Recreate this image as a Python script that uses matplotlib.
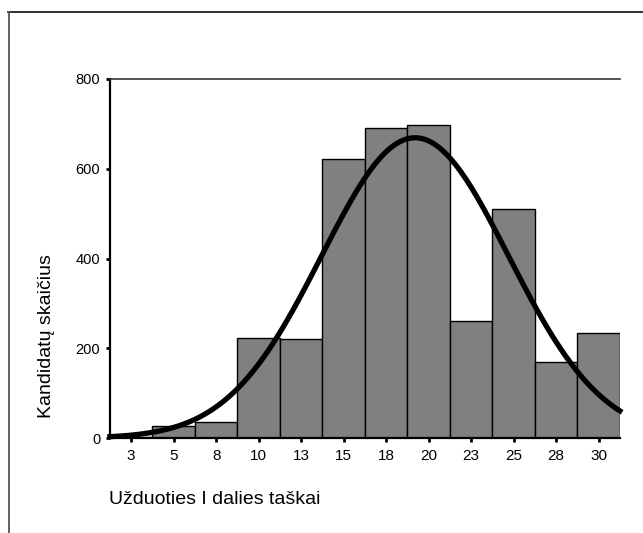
import numpy as np
import matplotlib.pyplot as plt
from matplotlib.lines import Line2D

plt.rcParams['font.family'] = ['Liberation Sans', 'DejaVu Sans']

# score bins (width 2.5) and candidate counts
bin_centers = [2.5, 5.0, 7.5, 10.0, 12.5, 15.0, 17.5, 20.0, 22.5, 25.0, 27.5, 30.0]
tick_labels = ["3", "5", "8", "10", "13", "15", "18", "20", "23", "25", "28", "30"]
counts = [2, 27, 36, 223, 220, 621, 690, 697, 261, 510, 169, 233]
bin_width = 2.5

# normal fit parameters
fit_mean = 19.2
fit_sd = 5.5

fig = plt.figure(figsize=(6.43, 5.33), dpi=100)
ax = fig.add_axes([0.171, 0.178, 0.793, 0.674])

ax.bar(bin_centers, counts, width=bin_width, color="#808080",
       edgecolor="black", linewidth=1.0, zorder=2)

n_total = sum(counts)
xs = np.linspace(bin_centers[0] - bin_width / 2, bin_centers[-1] + bin_width / 2, 300)
ys = n_total * bin_width / (fit_sd * np.sqrt(2 * np.pi)) * np.exp(-0.5 * ((xs - fit_mean) / fit_sd) ** 2)
ax.plot(xs, ys, color="black", linewidth=3.8, zorder=3, clip_on=False)

ax.set_xlim(bin_centers[0] - bin_width / 2, bin_centers[-1] + bin_width / 2)
ax.set_ylim(0, 800)
ax.set_xticks(bin_centers)
ax.set_xticklabels(tick_labels, fontsize=11)
ax.set_yticks([0, 200, 400, 600, 800])
ax.set_yticklabels(["0", "200", "400", "600", "800"], fontsize=10.5)
ax.tick_params(axis="x", direction="out", length=3, width=2, pad=5)
ax.tick_params(axis="y", direction="out", length=3, width=2, pad=4)

ax.spines["right"].set_visible(False)
ax.spines["top"].set_color("#333333")
ax.spines["top"].set_linewidth(1.2)
for side in ["left", "bottom"]:
    ax.spines[side].set_linewidth(1.6)
    ax.spines[side].set_color("black")

fig.text(47 / 643, 1 - 336 / 533, "Kandidatų skaičius", rotation=90,
         ha="center", va="center", fontsize=14)
fig.text(109 / 643, 1 - 500 / 533, "Užduoties I dalies taškai",
         ha="left", va="center", fontsize=14)

# outer frame lines
fig.add_artist(Line2D([8 / 643, 1.0], [1 - 12 / 533, 1 - 12 / 533],
                      transform=fig.transFigure, color="#222222", linewidth=1.3))
fig.add_artist(Line2D([9 / 643, 9 / 643], [0.0, 1 - 12 / 533],
                      transform=fig.transFigure, color="#555555", linewidth=1.3))

fig.savefig("out.png", dpi=100)
